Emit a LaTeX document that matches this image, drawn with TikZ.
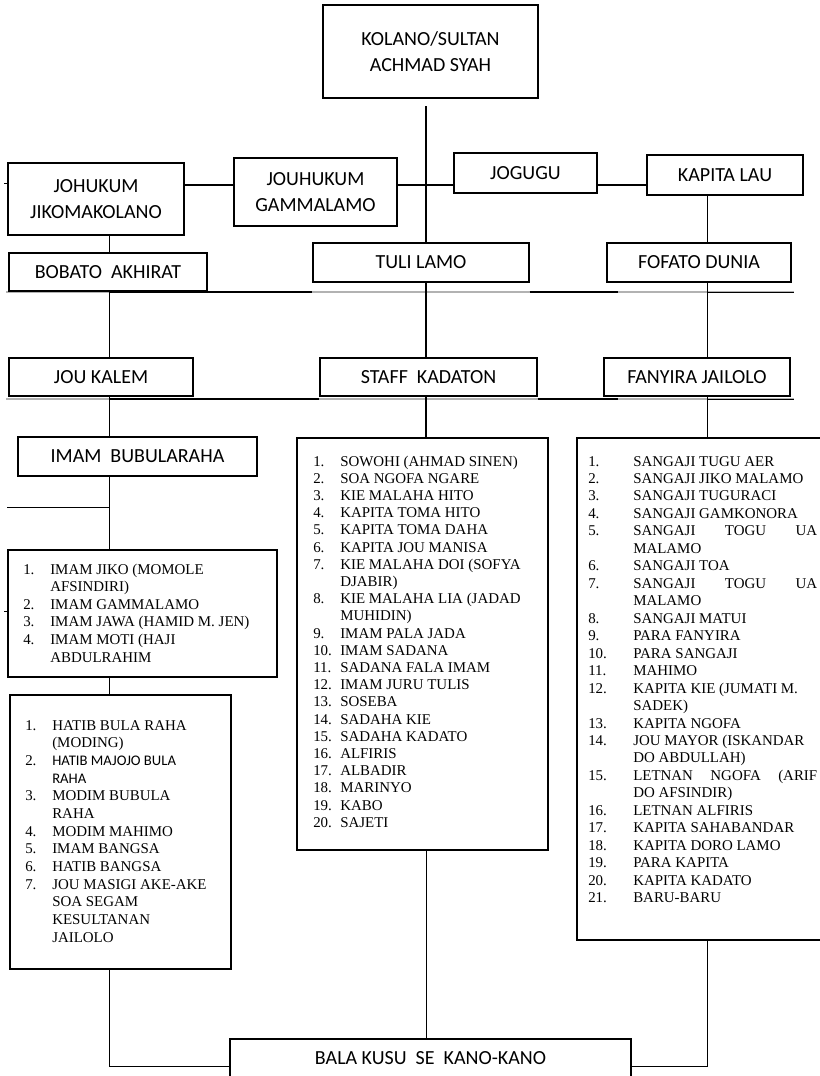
\documentclass[tikz,border=0pt]{standalone}
\usepackage{fontspec}
\setmainfont{Liberation Serif}
\newfontfamily\calfont{Carlito}
\usetikzlibrary{fit,calc}
\begin{document}
\begin{tikzpicture}[x=0.75pt,y=-0.75pt,
  box/.style={draw,fill=white,line width=1.1pt,inner sep=0pt,align=center,
    font=\calfont\fontsize{15}{19.5}\selectfont},
  sz/.style 2 args={minimum width=#1*0.75pt,minimum height=#2*0.75pt},
  lbox/.style={draw,fill=white,line width=1.1pt,inner sep=0pt},
  lst/.style={inner sep=0pt,anchor=base west},
  thickln/.style={line width=2.2pt},
  thinln/.style={line width=0.7pt},
  grayln/.style={line width=0.8pt,draw=gray!60}]
\useasboundingbox (0,0) rectangle (819,1076);

% named guide coordinates
\coordinate (cx) at (426,0);
\coordinate (lx) at (109,0);
\coordinate (rx) at (707,0);
\coordinate (hy) at (0,185);
\coordinate (top) at (426,106);
\coordinate (b1a) at (6,292);  \coordinate (b1b) at (794,292);
\coordinate (b1c) at (618,292);
\coordinate (b2a) at (6,399);  \coordinate (b2b) at (794,399);
\coordinate (b2c) at (618,399);
\coordinate (t1) at (4,183);
\coordinate (t2) at (4,611);
\coordinate (s1) at (7,507);
\coordinate (ly) at (0,1066);

% bus lines (drawn first, under boxes)
\draw[grayln] (b1a) -- (b1b);
\draw[grayln] (b2a) -- (b2b);

% title boxes
\node[box,sz={215}{93}] (kolano) at (430.5,51.5) {KOLANO/SULTAN\\ACHMAD SYAH};
\node[box,sz={176}{72}] (johukum) at (96,199) {JOHUKUM\\JIKOMAKOLANO};
\node[box,sz={163}{68}] (jouhukum) at (315.5,192) {JOUHUKUM\\GAMMALAMO};
\node[box,sz={143}{40}] (jogugu) at (525.5,173) {JOGUGU};
\node[box,sz={156}{40}] (kapitalau) at (725,175) {KAPITA LAU};
\node[box,sz={198}{38}] (bobato) at (108,272) {BOBATO\hspace{0.45em}AKHIRAT};
\node[box,sz={216}{39}] (tuli) at (421,262.5) {TULI LAMO};
\node[box,sz={184}{39}] (fofato) at (699,262.5) {FOFATO DUNIA};
\node[box,sz={184}{38}] (joukalem) at (101,377) {JOU KALEM};
\node[box,sz={217}{38}] (staff) at (428.5,377) {STAFF\hspace{0.45em}KADATON};
\node[box,sz={186}{38}] (fanyira) at (697,377) {FANYIRA JAILOLO};
\node[box,sz={239}{39}] (imambub) at (137.5,456.5) {IMAM\hspace{0.45em}BUBULARAHA};
\node[box,sz={401}{38}] (bala) at (430.5,1058) {BALA KUSU\hspace{0.45em}SE\hspace{0.45em}KANO-KANO};

% list boxes
\node[lbox,fit={(8,550)(277,677)}] (imamlist) {};
\node[lbox,fit={(10,695)(231,969)}] (hatiblist) {};
\node[lbox,fit={(297,438)(548,850)}] (stafflist) {};
\node[lbox,fit={(577,438)(826,940)}] (fanyiralist) {};

% list texts
\node[lst,font=\fontsize{11.2}{13.2}\selectfont] (imamtxt) at (23,574) {%
\begin{tabular}[t]{@{}p{20.25pt}@{}l@{}}
1. & IMAM JIKO (MOMOLE\\
   & AFSINDIRI)\\
2. & IMAM GAMMALAMO\\
3. & IMAM JAWA (HAMID M. JEN)\\
4. & IMAM MOTI (HAJI\\
   & ABDULRAHIM
\end{tabular}};

\node[lst,font=\fontsize{11.2}{13.25}\selectfont] (hatibtxt) at (25,730) {%
\begin{tabular}[t]{@{}p{20.25pt}@{}l@{}}
1. & HATIB BULA RAHA\\
   & (MODING)\\
2. & {\calfont\fontsize{11}{13.25}\selectfont HATIB MAJOJO BULA}\\
   & {\calfont\fontsize{11}{13.25}\selectfont RAHA}\\
3. & MODIM BUBULA\\
   & RAHA\\
4. & MODIM MAHIMO\\
5. & IMAM BANGSA\\
6. & HATIB BANGSA\\
7. & JOU MASIGI AKE-AKE\\
   & SOA SEGAM\\
   & KESULTANAN\\
   & JAILOLO
\end{tabular}};

\node[lst,font=\fontsize{11.2}{12.9}\selectfont] (stafftxt) at (313,466) {%
\begin{tabular}[t]{@{}p{20.25pt}@{}l@{}}
1. & SOWOHI (AHMAD SINEN)\\
2. & SOA NGOFA NGARE\\
3. & KIE MALAHA HITO\\
4. & KAPITA TOMA HITO\\
5. & KAPITA TOMA DAHA\\
6. & KAPITA JOU MANISA\\
7. & KIE MALAHA DOI (SOFYA\\
   & DJABIR)\\
8. & KIE MALAHA LIA (JADAD\\
   & MUHIDIN)\\
9. & IMAM PALA JADA\\
10. & IMAM SADANA\\
11. & SADANA FALA IMAM\\
12. & IMAM JURU TULIS\\
13. & SOSEBA\\
14. & SADAHA KIE\\
15. & SADAHA KADATO\\
16. & ALFIRIS\\
17. & ALBADIR\\
18. & MARINYO\\
19. & KABO\\
20. & SAJETI
\end{tabular}};

\node[lst,font=\fontsize{11.2}{13.1}\selectfont] (fanyiratxt) at (588,466) {%
\begin{tabular}[t]{@{}p{33.75pt}@{}l@{}}
1. & SANGAJI TUGU AER\\
2. & SANGAJI JIKO MALAMO\\
3. & SANGAJI TUGURACI\\
4. & SANGAJI GAMKONORA\\
5. & \makebox[138pt][s]{SANGAJI\hfill TOGU\hfill UA}\\
   & MALAMO\\
6. & SANGAJI TOA\\
7. & \makebox[138pt][s]{SANGAJI\hfill TOGU\hfill UA}\\
   & MALAMO\\
8. & SANGAJI MATUI\\
9. & PARA FANYIRA\\
10. & PARA SANGAJI\\
11. & MAHIMO\\
12. & KAPITA KIE (JUMATI M.\\
   & SADEK)\\
13. & KAPITA NGOFA\\
14. & JOU MAYOR (ISKANDAR\\
   & DO ABDULLAH)\\
15. & \makebox[138pt][s]{LETNAN\hfill NGOFA\hfill (ARIF}\\
   & DO AFSINDIR)\\
16. & LETNAN ALFIRIS\\
17. & KAPITA SAHABANDAR\\
18. & KAPITA DORO LAMO\\
19. & PARA KAPITA\\
20. & KAPITA KADATO\\
21. & BARU-BARU
\end{tabular}};

% thick trunk
\draw[thickln] (top) -- (tuli.north -| cx);
\draw[thickln] (tuli.south -| cx) -- (staff.north -| cx);
\draw[thickln] (staff.south -| cx) -- (stafflist.north -| cx);
\draw[thickln] (johukum.east |- hy) -- (jouhukum.west |- hy);
\draw[thickln] (jouhukum.east |- hy) -- (jogugu.west |- hy);
\draw[thickln] (jogugu.east |- hy) -- (kapitalau.west |- hy);

% bus black segments
\draw[thickln] (b1a -| lx) -- (tuli.west |- b1a);
\draw[thickln] (tuli.east |- b1a) -- (b1c);
\draw[thinln] (b1a -| rx) -- (b1b);
\draw[thickln] (b2a -| lx) -- (staff.west |- b2a);
\draw[thickln] (staff.east |- b2a) -- (b2c);
\draw[thinln] (b2a -| rx) -- (b2b);

% thin left branch
\draw[thinln] (johukum.south -| lx) -- (bobato.north -| lx);
\draw[thinln] (bobato.south -| lx) -- (joukalem.north -| lx);
\draw[thinln] (joukalem.south -| lx) -- (imambub.north -| lx);
\draw[thinln] (imambub.south -| lx) -- (imamlist.north -| lx);
\draw[thinln] (s1) -- (s1 -| lx);
\draw[thinln] (imamlist.south -| lx) -- (hatiblist.north -| lx);
\draw[thinln] (hatiblist.south -| lx) -- (ly -| lx) -- (bala.west |- ly);
\draw[thinln] (t1) -- (johukum.west |- t1);
\draw[thinln] (t2) -- (imamlist.west |- t2);

% thin right branch
\draw[thinln] (kapitalau.south -| rx) -- (fofato.north -| rx);
\draw[thinln] (fofato.south -| rx) -- (fanyira.north -| rx);
\draw[thinln] (fanyira.south -| rx) -- (fanyiralist.north -| rx);
\draw[thinln] (fanyiralist.south -| rx) -- (ly -| rx) -- (bala.east |- ly);

% thin centre to bottom
\draw[thinln] (stafflist.south -| cx) -- (bala.north -| cx);
\end{tikzpicture}
\end{document}
